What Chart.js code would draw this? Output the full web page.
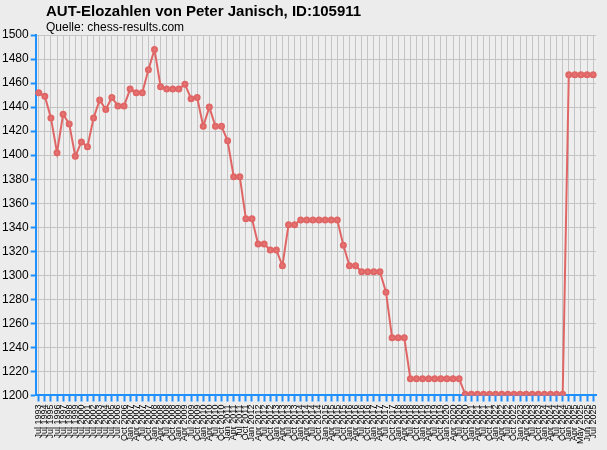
<!DOCTYPE html><html><head><script src="https://cdn.jsdelivr.net/npm/chart.js@4"></script>
<style>html,body{margin:0;background:#ececec}#w{position:relative;width:607px;height:450px}
#t{position:absolute;left:46px;top:2px;font:bold 15px 'Liberation Sans',Arial;color:#000}
#s{position:absolute;left:46px;top:20px;font:12px 'Liberation Sans',Arial;color:#000}</style></head><body><div id="w"><canvas id="c"></canvas>
<div id="t">AUT-Elozahlen von Peter Janisch, ID:105911</div><div id="s">Quelle: chess-results.com</div></div>
<script>
const labels=["Jul 1993","Jul 1994","Jul 1995","Jul 1996","Jul 1997","Jul 1998","Jul 1999","Jul 2000","Jul 2001","Jul 2002","Jul 2003","Jul 2004","Jul 2005","Jul 2006",
"Oct 2006","Jan 2007","Apr 2007","Jul 2007","Oct 2007","Jan 2008","Apr 2008","Jul 2008","Oct 2008","Jan 2009","Apr 2009","Jul 2009","Oct 2009",
"Jan 2010","Apr 2010","Jul 2010","Oct 2010","Jan 2011","Apr 2011","Jul 2011","Oct 2011","Jan 2012","Apr 2012","Jul 2012","Oct 2012",
"Jan 2013","Apr 2013","Jul 2013","Oct 2013","Jan 2014","Apr 2014","Jul 2014","Oct 2014","Jan 2015","Apr 2015","Jul 2015","Oct 2015",
"Jan 2016","Apr 2016","Jul 2016","Oct 2016","Jan 2017","Apr 2017","Jul 2017","Oct 2017","Jan 2018","Apr 2018","Jul 2018","Oct 2018",
"Jan 2019","Apr 2019","Jul 2019","Oct 2019","Jan 2020","Apr 2020","Jul 2020","Oct 2020","Jan 2021","Apr 2021","Jul 2021","Oct 2021",
"Jan 2022","Apr 2022","Jul 2022","Oct 2022","Jan 2023","Apr 2023","Jul 2023","Oct 2023","Jan 2024","Apr 2024","Jul 2024","Oct 2024",
"Jan 2025","Apr 2025","May 2025","Jun 2025","Jul 2025"];
const elo=[1452,1449,1431,1402,1434,1426,1399,1411,1407,1431,1446,1438,1448,1441,1441,1455,1452,1452,1471,1488,
1457,1455,1455,1455,1459,1447,1448,1424,1440,1424,1424,1412,1382,1382,1347,1347,1326,1326,1321,1321,
1308,1342,1342,1346,1346,1346,1346,1346,1346,1346,1325,1308,1308,1303,1303,1303,1303,1286,1248,1248,
1248,1214,1214,1214,1214,1214,1214,1214,1214,1214,1201,1201,1201,1201,1201,1201,1201,1201,1201,1201,
1201,1201,1201,1201,1201,1201,1201,1467,1467,1467,1467,1467];
const yTicks=[1200,1220,1240,1260,1280,1300,1320,1340,1360,1380,1400,1420,1440,1460,1480,1500];
const bgPlugin={id:'bg',beforeDraw(c){const a=c.chartArea,x=c.ctx;x.save();x.fillStyle='#ececec';x.fillRect(0,0,c.width,c.height);x.fillStyle='#eeeeee';x.fillRect(a.left,a.top,a.right-a.left,a.bottom-a.top);x.restore();}};
new Chart(document.getElementById('c'),{type:'line',data:{labels,datasets:[{data:elo,borderColor:'#e06666',backgroundColor:'#e06666',borderWidth:2,pointRadius:2.5,pointBackgroundColor:'#e57373',pointBorderColor:'#e06666',tension:0}]},
options:{responsive:true,maintainAspectRatio:false,animation:false,layout:{padding:{left:0,right:8,top:35,bottom:3}},
plugins:{legend:{display:false},tooltip:{enabled:false}},
scales:{x:{offset:true,grid:{color:'#c4c4c4',drawTicks:true,tickColor:'#1e90ff',tickLength:6,tickWidth:2},border:{color:'#1e90ff',width:2},
ticks:{autoSkip:false,maxRotation:90,minRotation:90,color:'#000',font:{family:'Liberation Sans, Arial',size:9}}},
y:{min:1200,max:1500,afterBuildTicks(s){s.ticks=yTicks.map(v=>({value:v}));},grid:{color:'#c4c4c4',tickColor:'#1e90ff',tickLength:5,tickWidth:2},border:{color:'#1e90ff',width:2},
ticks:{color:'#000',padding:2,callback:v=>String(v),font:{family:'Liberation Sans, Arial',size:12}}}}},plugins:[bgPlugin]});
</script></body></html>
